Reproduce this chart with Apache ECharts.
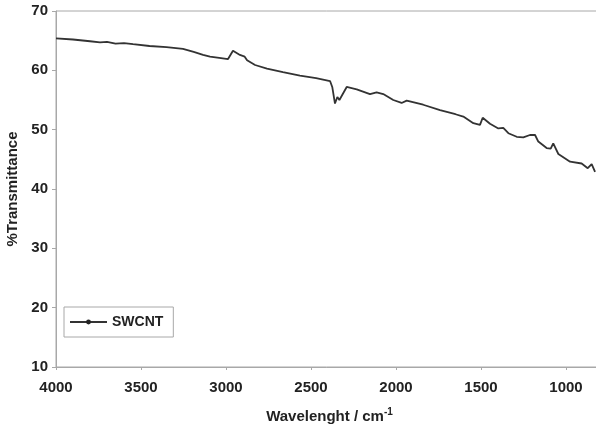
<!DOCTYPE html>
<html>
<head>
<meta charset="utf-8">
<script src="https://cdn.jsdelivr.net/npm/echarts@6/dist/echarts.min.js"></script>
<style>
  html, body { margin: 0; padding: 0; background: #fff; }
  #chart { width: 596px; height: 428px; }
</style>
</head>
<body>
<div id="chart"></div>
<script>
// wavenumbers (cm-1) and %T
const wavenumbers = [4000, 3900, 3800, 3741, 3700, 3650, 3600, 3547, 3450, 3350, 3253, 3190, 3135, 3094, 3040, 2988, 2959, 2918, 2890, 2876, 2868, 2829, 2759, 2665, 2565, 2470, 2388, 2375, 2359, 2345, 2333, 2290, 2231, 2153, 2114, 2075, 2016, 1967, 1937, 1840, 1741, 1650, 1604, 1545, 1506, 1490, 1447, 1398, 1369, 1339, 1290, 1251, 1212, 1182, 1163, 1114, 1090, 1075, 1045, 976, 908, 872, 849, 829];
const transmittance = [65.4, 65.2, 64.9, 64.7, 64.8, 64.5, 64.6, 64.4, 64.1, 63.9, 63.6, 63.1, 62.6, 62.3, 62.1, 61.9, 63.3, 62.6, 62.3, 61.7, 61.9, 60.9, 60.3, 59.7, 59.1, 58.7, 58.2, 57.2, 54.4, 55.5, 55.0, 57.2, 56.8, 56.0, 56.3, 56.0, 55.0, 54.5, 54.9, 54.2, 53.3, 52.6, 52.2, 51.1, 50.8, 52.0, 51.0, 50.2, 50.3, 49.4, 48.8, 48.7, 49.1, 49.1, 48.0, 46.9, 46.8, 47.7, 45.9, 44.6, 44.3, 43.5, 44.2, 42.9];
const seriesName = 'SWCNT';

const font = 'Liberation Sans, Arial, sans-serif';
const chart = echarts.init(document.getElementById('chart'));

chart.setOption({
  animation: false,
  backgroundColor: '#fff',
  grid: {
    left: 56, top: 11, width: 595, height: 356,
    outerBoundsMode: 'none',
    show: true, borderColor: '#a8a8a8', borderWidth: 1
  },
  legend: {
    left: 64, top: 307, width: 116, height: 31,
    padding: [8, 10, 8, 5],
    itemWidth: 37, itemHeight: 6, itemGap: 8,
    borderColor: '#a8a8a8', borderWidth: 1,
    textStyle: { fontFamily: font, fontWeight: 'bold', fontSize: 14, color: '#222' },
    data: [seriesName]
  },
  xAxis: {
    type: 'value', inverse: true, min: 500, max: 4000, interval: 500,
    name: 'Wavelenght / cm{sup|-1}',
    nameLocation: 'middle', nameGap: 40,
    nameTextStyle: {
      fontFamily: font, fontWeight: 'bold', fontSize: 15, color: '#222',
      align: 'center', padding: [0, 48, 0, 0],
      rich: { sup: { fontFamily: font, fontWeight: 'bold', fontSize: 10, color: '#222', verticalAlign: 'top', padding: [0, 0, 9, 0] } }
    },
    axisLine: { show: true, lineStyle: { color: '#a8a8a8', width: 1 } },
    axisTick: { show: true, length: 3, lineStyle: { color: '#a8a8a8' } },
    axisLabel: {
      fontFamily: font, fontWeight: 'bold', fontSize: 15, color: '#222', margin: 13,
      formatter: v => String(v)
    },
    splitLine: { show: false }
  },
  yAxis: {
    type: 'value', min: 10, max: 70, interval: 10,
    name: '%Transmittance',
    nameLocation: 'middle', nameGap: 35,
    nameTextStyle: { fontFamily: font, fontWeight: 'bold', fontSize: 15, color: '#222' },
    axisLine: { show: true, lineStyle: { color: '#a8a8a8', width: 1 } },
    axisTick: { show: true, length: 4, lineStyle: { color: '#a8a8a8' } },
    axisLabel: { fontFamily: font, fontWeight: 'bold', fontSize: 15, color: '#222', margin: 8 },
    splitLine: { show: false }
  },
  series: [{
    name: seriesName,
    type: 'line',
    data: wavenumbers.map((w, i) => [w, transmittance[i]]),
    showSymbol: false,
    symbol: 'circle',
    symbolSize: 4,
    itemStyle: { color: '#222' },
    lineStyle: { color: '#333', width: 1.8 }
  }]
});
</script>
</body>
</html>
